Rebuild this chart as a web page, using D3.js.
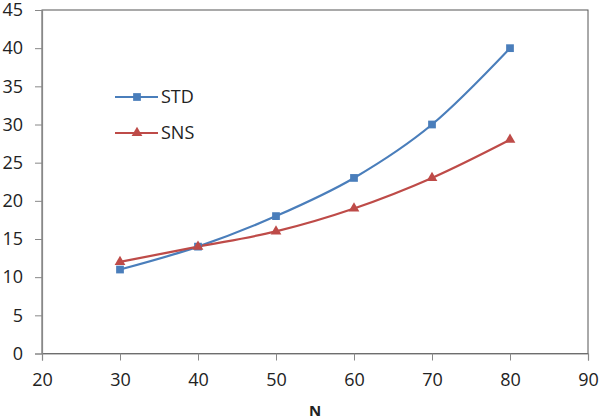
<!DOCTYPE html>
<html><head><meta charset="utf-8">
<script src="https://cdn.jsdelivr.net/npm/d3@7"></script>
<style>body{margin:0;background:#fff}svg{display:block}</style>
</head><body><svg id="c" width="600" height="420"></svg>
<script>
const nValues = [30, 40, 50, 60, 70, 80];
const stdValues = [11, 14, 18, 23, 30, 40];
const snsValues = [12, 14, 16, 19, 23, 28];
const xTicks = [20, 30, 40, 50, 60, 70, 80, 90];
const yTicks = [0, 5, 10, 15, 20, 25, 30, 35, 40, 45];
const seriesNames = ["STD", "SNS"];

const svg = d3.select("#c");
const L = 42, R = 588, T = 10, B = 353.5;
const x = d3.scaleLinear().domain([20, 90]).range([L, R]);
const y = d3.scaleLinear().domain([0, 45]).range([B, T]);
const font = "'Open Sans', 'DejaVu Sans', sans-serif";

// plot border
svg.append("rect").attr("x", L).attr("y", T).attr("width", R - L).attr("height", B - T)
  .attr("fill", "none").attr("stroke", "#555").attr("stroke-width", 1);

const ya = svg.append("g").attr("transform", `translate(${L},0)`)
  .call(d3.axisLeft(y).tickValues(yTicks).tickSize(7).tickPadding(12));
const xa = svg.append("g").attr("transform", `translate(0,${B})`)
  .call(d3.axisBottom(x).tickValues(xTicks).tickSize(7).tickPadding(13));
[ya, xa].forEach(g => {
  g.select(".domain").attr("stroke", "#888").attr("stroke-width", 1.2);
  g.selectAll(".tick line").attr("stroke", "#888");
  g.selectAll("text").attr("font-family", font).attr("font-size", 18).attr("fill", "#222");
});

svg.append("text").attr("x", x(55)).attr("y", 416).attr("text-anchor", "middle")
  .attr("font-family", font).attr("font-size", 15).attr("font-weight", "bold").attr("fill", "#222").text("N");

const colors = ["#4a7ebb", "#be4b48"];
const data = [stdValues, snsValues];
const line = d3.line().x((d, i) => x(nValues[i])).y(d => y(d)).curve(d3.curveCatmullRom.alpha(0));

data.forEach((vals, k) => {
  svg.append("path").attr("d", line(vals)).attr("fill", "none")
    .attr("stroke", colors[k]).attr("stroke-width", 2.2);
});
const sq = d3.symbol().type(d3.symbolSquare).size(60);
const tri = d3.symbol().type(d3.symbolTriangle).size(50);
data.forEach((vals, k) => {
  svg.append("g").selectAll("path").data(vals).join("path")
    .attr("transform", (d, i) => `translate(${x(nValues[i])},${y(d)})`)
    .attr("d", k === 0 ? sq : tri).attr("fill", colors[k]);
});

// legend
const legY = [97, 133];
seriesNames.forEach((name, k) => {
  svg.append("line").attr("x1", 115).attr("x2", 158).attr("y1", legY[k]).attr("y2", legY[k])
    .attr("stroke", colors[k]).attr("stroke-width", 2.2);
  svg.append("path").attr("transform", `translate(137,${legY[k]})`)
    .attr("d", k === 0 ? sq : tri).attr("fill", colors[k]);
  svg.append("text").attr("x", 161).attr("y", legY[k]).attr("dy", "0.36em")
    .attr("font-family", font).attr("font-size", 18).attr("fill", "#222").text(name);
});
</script></body></html>
